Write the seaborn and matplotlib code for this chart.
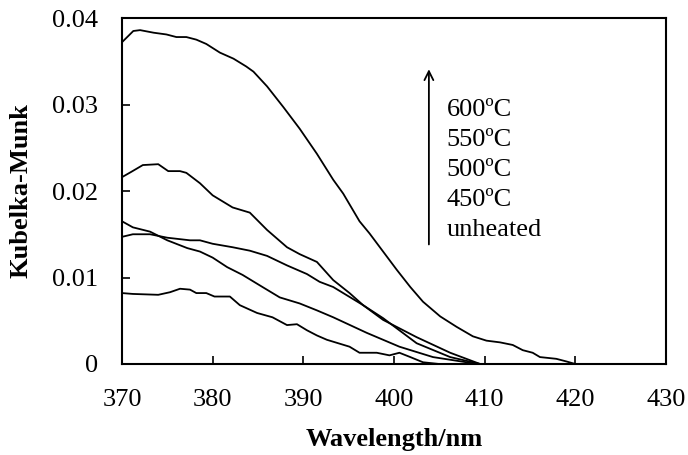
import numpy as np
import pandas as pd
import matplotlib
matplotlib.use("Agg")
import matplotlib.pyplot as plt
import seaborn as sns

wl_600 = [370, 371.25, 372, 373.5, 374.9, 376, 377.1, 378.2, 379.3, 380.8, 382.3, 383.7,
          384.5, 386, 387.8, 389.6, 391.5, 393.3, 394.4, 396.2, 397.3, 398.8, 400.3,
          401.8, 403.2, 405.1, 406.9, 408.7, 410.2, 411.7, 413.1, 414.2, 415.3, 416.1,
          417.9, 419, 420, 425, 430]
km_600 = [0.0372, 0.0385, 0.0386, 0.0383, 0.0381, 0.0378, 0.0378, 0.0375, 0.0370, 0.0360,
          0.0353, 0.0344, 0.0338, 0.0321, 0.0297, 0.0272, 0.0243, 0.0213, 0.0197, 0.0165,
          0.0151, 0.0130, 0.0109, 0.0089, 0.0072, 0.0055, 0.0043, 0.0032, 0.0027, 0.0025,
          0.0022, 0.0016, 0.0013, 0.0008, 0.0006, 0.0003, 0.0, -0.0001, 0.0]

wl_550 = [370, 371, 372.3, 374, 375.1, 376.4, 377.1, 378.6, 380, 382.2, 384.1, 386,
          388.2, 389.6, 391.5, 393.3, 395.1, 396.6, 398.8, 402.5, 406.2, 409.5, 430]
km_550 = [0.0216, 0.0222, 0.0230, 0.0231, 0.0223, 0.0223, 0.0221, 0.0209, 0.0195, 0.0181,
          0.0175, 0.0155, 0.0135, 0.0127, 0.0118, 0.0097, 0.0082, 0.0068, 0.0051, 0.0031,
          0.0013, 0.0, 0.0]

wl_500 = [370, 371.2, 373.1, 375, 377.5, 378.6, 380, 382.2, 384.1, 386, 388.2, 390.4,
          391.8, 393.3, 396.6, 398.8, 402.5, 406.2, 409.5, 430]
km_500 = [0.0147, 0.0150, 0.0150, 0.0146, 0.0143, 0.0143, 0.0139, 0.0135, 0.0131, 0.0125,
          0.0114, 0.0104, 0.0095, 0.0089, 0.0068, 0.0053, 0.0024, 0.0008, 0.0, 0.0]

wl_450 = [370, 371.2, 373.1, 375, 377.2, 378.6, 380, 381.6, 383.3, 385.5, 387.4, 389.6,
          391.5, 393.3, 397, 400.6, 404.3, 408, 409, 430]
km_450 = [0.0165, 0.0158, 0.0153, 0.0143, 0.0134, 0.0130, 0.0123, 0.0112, 0.0103, 0.0089,
          0.0077, 0.0070, 0.0062, 0.0054, 0.0036, 0.0020, 0.0008, 0.0002, 0.0, 0.0]

wl_unheated = [370, 371.2, 374, 375.3, 376.4, 377.5, 378.2, 379.3, 380.2, 381.9, 383,
               384.9, 386.6, 388.2, 389.3, 390.4, 391.5, 392.6, 395.1, 396.2, 398.1,
               399.5, 400.6, 401.8, 403.2, 405, 430]
km_unheated = [0.0082, 0.0081, 0.0080, 0.0083, 0.0087, 0.0086, 0.0082, 0.0082, 0.0078,
               0.0078, 0.0068, 0.0059, 0.0054, 0.0045, 0.0046, 0.0039, 0.0033, 0.0028,
               0.0020, 0.0013, 0.0013, 0.0010, 0.0013, 0.0008, 0.0002, 0.0, 0.0]

series = {
    "600ºC": (wl_600, km_600),
    "550ºC": (wl_550, km_550),
    "500ºC": (wl_500, km_500),
    "450ºC": (wl_450, km_450),
    "unheated": (wl_unheated, km_unheated),
}
legend_labels = ["600ºC", "550ºC", "500ºC", "450ºC", "unheated"]

x_ticks = [370, 380, 390, 400, 410, 420, 430]
y_ticks = [0, 0.01, 0.02, 0.03, 0.04]
y_ticklabels = ["0", "0.01", "0.02", "0.03", "0.04"]

frames = []
for name, (wl, km) in series.items():
    frames.append(pd.DataFrame({"wavelength": wl, "km": km, "sample": name}))
df = pd.concat(frames, ignore_index=True)

sns.set_style("ticks")
plt.rcParams["font.family"] = ["Liberation Serif", "DejaVu Serif"]
plt.rcParams["text.color"] = "black"
plt.rcParams["axes.labelcolor"] = "black"

fs = 19

fig = plt.figure(figsize=(6.88, 4.55), dpi=100)
ax = fig.add_axes([0.1773, 0.2, 0.968 - 0.1773, 0.9604 - 0.2])

sns.lineplot(data=df, x="wavelength", y="km", hue="sample",
             palette=["black"] * len(series), legend=False, sort=False,
             estimator=None, linewidth=1.3, ax=ax)

ax.set_xlim(370, 430)
ax.set_ylim(0, 0.04)
ax.set_xticks(x_ticks)
ax.set_xticklabels([str(t) for t in x_ticks])
ax.set_yticks(y_ticks)
ax.set_yticklabels(y_ticklabels)
ax.tick_params(direction="in", length=6, width=1.2, labelsize=fs,
               colors="black", labelcolor="black")
ax.tick_params(axis="y", pad=17)
ax.tick_params(axis="x", pad=18)
for sp in ax.spines.values():
    sp.set_linewidth(1.5)
    sp.set_color("black")

ax.set_xlabel("Wavelength/nm", fontsize=fs, fontweight="bold", labelpad=12,
              color="black")
ax.set_ylabel("Kubelka-Munk", fontsize=fs, fontweight="bold", labelpad=14,
              color="black")

# arrow with temperature labels
ax.annotate("", xy=(403.85, 0.0344), xytext=(403.85, 0.0135),
            arrowprops=dict(arrowstyle="->", color="black", lw=1.3,
                            mutation_scale=16))
label_y = [0.0294, 0.0259, 0.0224, 0.0190, 0.0155]
for lab, yy in zip(legend_labels, label_y):
    ax.text(405.8, yy, lab, fontsize=fs, va="center", ha="left", color="black")

fig.savefig("out.png", dpi=100)
